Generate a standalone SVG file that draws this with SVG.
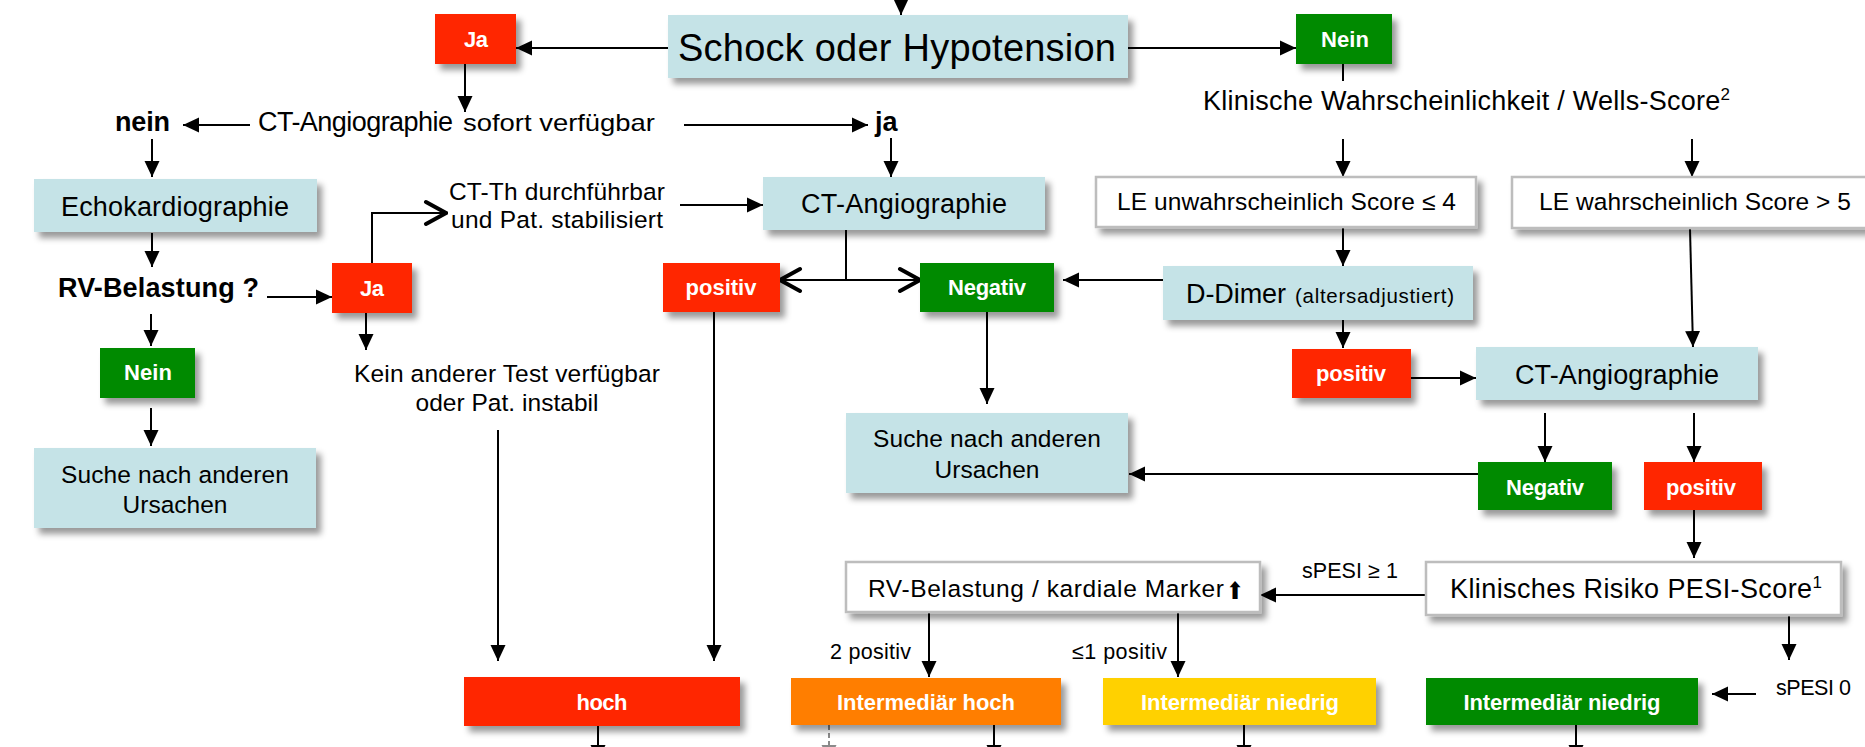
<svg xmlns="http://www.w3.org/2000/svg" width="1865" height="747" viewBox="0 0 1865 747">
<defs>
<style>
text{font-family:"Liberation Sans",Arial,Helvetica,sans-serif;fill:#000}
.lb{fill:#fff;font-weight:bold;font-size:22px;text-anchor:middle}
.m{font-size:27px}
.s{font-size:24.5px}
.xs{font-size:21.5px}
.b{font-weight:bold}
.mid{text-anchor:middle}
.blue{fill:#C5E3E7}
.red{fill:#FF2600}
.grn{fill:#008A00}
.org{fill:#FF7E00}
.yel{fill:#FFD100}
.wht{fill:#fff;stroke:#BDBDBD;stroke-width:2.5}
.c{stroke:#000;stroke-width:2;fill:none}
.ca{stroke:#000;stroke-width:2;fill:none;marker-end:url(#ah)}
.cv{stroke:#000;stroke-width:2;fill:none;marker-end:url(#ch)}
.gd{stroke:#8A8A8A;stroke-width:2;fill:none;stroke-dasharray:5 3;marker-end:url(#ahg)}
.sh{filter:url(#sh)}
</style>
<filter id="sh" x="-10%" y="-20%" width="130%" height="160%">
<feDropShadow dx="5" dy="6" stdDeviation="3" flood-color="#000" flood-opacity="0.4"/>
</filter>
<marker id="ah" viewBox="-16 -8 16 16" refX="0" refY="0" markerWidth="16" markerHeight="16" markerUnits="userSpaceOnUse" orient="auto">
<path d="M-16,-7.5 L0,0 L-16,7.5 z" fill="#000"/>
</marker>
<marker id="ahg" viewBox="-16 -8 16 16" refX="0" refY="0" markerWidth="16" markerHeight="16" markerUnits="userSpaceOnUse" orient="auto">
<path d="M-16,-7.5 L0,0 L-16,7.5 z" fill="#8A8A8A"/>
</marker>
<marker id="ch" viewBox="-24 -14 26 28" refX="0" refY="0" markerWidth="26" markerHeight="28" markerUnits="userSpaceOnUse" orient="auto-start-reverse">
<path d="M-20,-11 L0,0 L-20,11" fill="none" stroke="#000" stroke-width="4" stroke-linecap="round"/>
</marker>
</defs>
<rect width="1865" height="747" fill="#fff"/>

<g id="connectors">
<path class="ca" d="M901,-20 V15"/>
<path class="ca" d="M668,48 H516"/>
<path class="ca" d="M1128,48 H1296"/>
<path class="ca" d="M465,64 V112"/>
<path class="ca" d="M250,125 H183"/>
<path class="ca" d="M684,125 H868"/>
<path class="ca" d="M152,139 V177"/>
<path class="ca" d="M891,138 V177"/>
<path class="ca" d="M152,233 V267"/>
<path class="ca" d="M267,297 H332"/>
<path class="ca" d="M151,314 V346"/>
<path class="ca" d="M151,408 V446"/>
<path class="cv" d="M372,263 V213 H446"/>
<path class="ca" d="M366,313 V350"/>
<path class="ca" d="M680,205 H763"/>
<path class="c" d="M846,230 V280"/>
<path class="c" d="M780,280 H920" style="marker-start:url(#ch);marker-end:url(#ch)"/>
<path class="ca" d="M1163,280 H1063"/>
<path class="ca" d="M987,312 V404"/>
<path class="ca" d="M498,430 V661"/>
<path class="ca" d="M714,312 V661"/>
<path class="c" d="M1343,64 V81"/>
<path class="ca" d="M1343,139 V177"/>
<path class="ca" d="M1692,139 V177"/>
<path class="ca" d="M1343,227 V266"/>
<path class="ca" d="M1343,320 V348"/>
<path class="ca" d="M1690,229 L1693,347"/>
<path class="ca" d="M1411,378 H1476"/>
<path class="ca" d="M1545,413 V462"/>
<path class="ca" d="M1694,413 V462"/>
<path class="ca" d="M1478,474 H1129"/>
<path class="ca" d="M1694,510 V558"/>
<path class="ca" d="M1426,595 H1260"/>
<path class="ca" d="M929,612 V677"/>
<path class="ca" d="M1178,612 V677"/>
<path class="ca" d="M1789,615 V660"/>
<path class="ca" d="M1756,694 H1712"/>
<path class="ca" d="M598,726 V761"/>
<path class="gd" d="M829,725 V761"/>
<path class="ca" d="M994,725 V761"/>
<path class="ca" d="M1244,725 V761"/>
<path class="ca" d="M1576,725 V761"/>
</g>

<g id="schock"><rect class="blue sh" x="668" y="15" width="460" height="63"/><text x="897" y="61" class="mid" font-size="38" textLength="438">Schock oder Hypotension</text></g>
<g id="ja-top"><rect class="red sh" x="435" y="14" width="81" height="50"/><text class="lb" x="476" y="47" textLength="24">Ja</text></g>
<g id="nein-top"><rect class="grn sh" x="1296" y="14" width="96" height="50"/><text class="lb" x="1345" y="47" textLength="48">Nein</text></g>
<g id="wells"><text x="1203" y="110" class="m" textLength="527">Klinische Wahrscheinlichkeit / Wells-Score<tspan font-size="17" dy="-10">2</tspan></text></g>
<g id="nein-left"><text x="115" y="131" class="m b" textLength="55">nein</text></g>
<g id="ct-sofort"><text x="258" y="131" class="m" textLength="195">CT-Angiographie</text><text x="463" y="131" font-size="24" textLength="192" lengthAdjust="spacingAndGlyphs">sofort verfügbar</text></g>
<g id="ja-mid"><text x="875" y="131" class="m b">ja</text></g>
<g id="ct-mid"><rect class="blue sh" x="763" y="177" width="282" height="53"/><text x="904" y="213" class="m mid" textLength="206">CT-Angiographie</text></g>
<g id="ct-th"><text x="557" y="200" class="s mid" textLength="216">CT-Th durchführbar</text><text x="557" y="228" class="s mid" textLength="212">und Pat. stabilisiert</text></g>
<g id="echo"><rect class="blue sh" x="34" y="179" width="283" height="53"/><text x="175" y="216" class="m mid" textLength="228">Echokardiographie</text></g>
<g id="rv-q"><text x="58" y="297" class="m b" textLength="201">RV-Belastung ?</text></g>
<g id="ja-rv"><rect class="red sh" x="332" y="263" width="80" height="50"/><text class="lb" x="372" y="296" textLength="24">Ja</text></g>
<g id="kein-test"><text x="507" y="382" class="s mid" textLength="306">Kein anderer Test verfügbar</text><text x="507" y="411" class="s mid" textLength="183">oder Pat. instabil</text></g>
<g id="nein-rv"><rect class="grn sh" x="100" y="348" width="95" height="50"/><text class="lb" x="148" y="380" textLength="48">Nein</text></g>
<g id="suche-left"><rect class="blue sh" x="34" y="448" width="282" height="80"/><text x="175" y="483" class="s mid" textLength="228">Suche nach anderen</text><text x="175" y="513" class="s mid" textLength="105">Ursachen</text></g>
<g id="positiv-mid"><rect class="red sh" x="663" y="263" width="117" height="49"/><text class="lb" x="721" y="295" textLength="71">positiv</text></g>
<g id="negativ-mid"><rect class="grn sh" x="920" y="263" width="134" height="49"/><text class="lb" x="987" y="295" textLength="78">Negativ</text></g>
<g id="ddimer"><rect class="blue sh" x="1163" y="266" width="310" height="54"/><text x="1186" y="303" class="m" textLength="100">D-Dimer</text><text x="1295" y="303" font-size="20.5" textLength="159">(altersadjustiert)</text></g>
<g id="positiv-dd"><rect class="red sh" x="1292" y="349" width="119" height="49"/><text class="lb" x="1351" y="381" textLength="70">positiv</text></g>
<g id="ct-right"><rect class="blue sh" x="1476" y="347" width="282" height="53"/><text x="1617" y="384" class="m mid" textLength="204">CT-Angiographie</text></g>
<g id="suche-mid"><rect class="blue sh" x="846" y="413" width="282" height="80"/><text x="987" y="447" class="s mid" textLength="228">Suche nach anderen</text><text x="987" y="478" class="s mid" textLength="105">Ursachen</text></g>
<g id="negativ-right"><rect class="grn sh" x="1478" y="462" width="134" height="48"/><text class="lb" x="1545" y="495" textLength="78">Negativ</text></g>
<g id="positiv-right"><rect class="red sh" x="1644" y="462" width="118" height="48"/><text class="lb" x="1701" y="495" textLength="70">positiv</text></g>
<g id="le-unw"><rect class="wht sh" x="1096" y="177" width="380" height="50"/><text x="1117" y="210" class="s" textLength="339">LE unwahrscheinlich Score ≤ 4</text></g>
<g id="le-wahr"><rect class="wht sh" x="1512" y="177" width="362" height="51"/><text x="1539" y="210" class="s" textLength="312">LE wahrscheinlich Score &gt; 5</text></g>
<g id="rv-marker"><rect class="wht sh" x="846" y="562" width="414" height="50"/><text x="868" y="597" font-size="24.5" textLength="356">RV-Belastung / kardiale Marker</text><text transform="translate(1235,599) scale(0.85,1)" font-size="24" font-weight="bold" text-anchor="middle" style="font-family:'DejaVu Sans',sans-serif">⬆</text></g>
<g id="pesi"><rect class="wht sh" x="1426" y="562" width="415" height="53"/><text x="1450" y="598" class="m" textLength="372">Klinisches Risiko PESI-Score<tspan font-size="17" dy="-10">1</tspan></text></g>
<g id="lbl-spesi1"><text x="1302" y="578" class="xs" textLength="96">sPESI ≥ 1</text></g>
<g id="lbl-2pos"><text x="830" y="659" class="xs" textLength="81">2 positiv</text></g>
<g id="lbl-1pos"><text x="1072" y="659" class="xs" textLength="95">≤1 positiv</text></g>
<g id="lbl-spesi0"><text x="1776" y="695" class="xs" textLength="75">sPESI 0</text></g>
<g id="hoch"><rect class="red sh" x="464" y="677" width="276" height="49"/><text class="lb" x="602" y="710" textLength="51">hoch</text></g>
<g id="int-hoch"><rect class="org sh" x="791" y="678" width="270" height="47"/><text class="lb" x="926" y="710" textLength="178">Intermediär hoch</text></g>
<g id="int-niedrig-y"><rect class="yel sh" x="1103" y="678" width="273" height="47"/><text class="lb" x="1240" y="710" textLength="198">Intermediär niedrig</text></g>
<g id="int-niedrig-g"><rect class="grn sh" x="1426" y="678" width="272" height="47"/><text class="lb" x="1562" y="710" textLength="197">Intermediär niedrig</text></g>
</svg>
